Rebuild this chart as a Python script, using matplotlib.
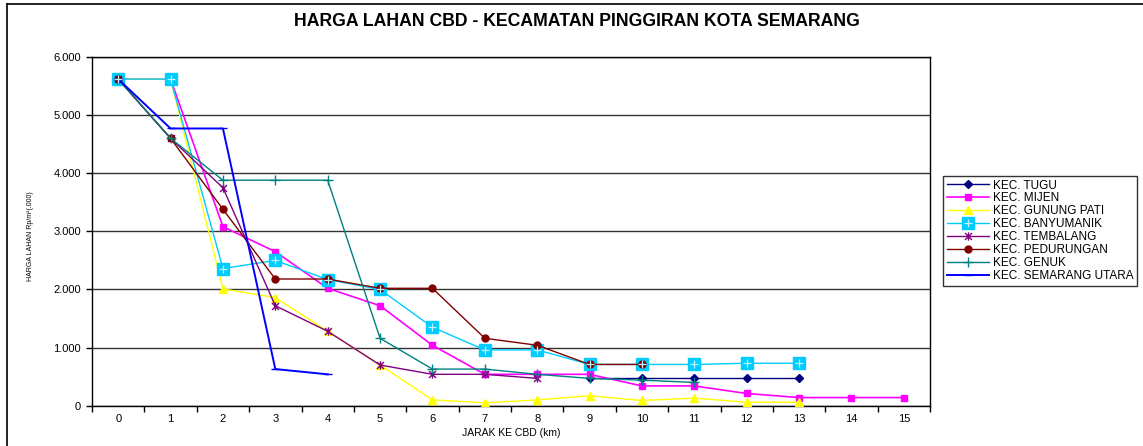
import numpy as np
import matplotlib
matplotlib.use('Agg')
import matplotlib.pyplot as plt
from matplotlib.ticker import FuncFormatter, FixedLocator
from matplotlib.lines import Line2D
from matplotlib.path import Path
from matplotlib.legend_handler import HandlerTuple

plt.rcParams['font.family'] = ['Liberation Sans', 'DejaVu Sans']

# Jarak ke CBD (km) dan harga lahan (Rp/m2, ribuan) per kecamatan
jarak = list(range(16))
nan = np.nan

tugu = [5620, nan, nan, nan, nan, nan, nan, nan, nan, 470, 470, 470, 470, 470, nan, nan]
mijen = [5620, 5620, 3080, 2650, 2020, 1720, 1040, 540, 540, 540, 340, 340, 210, 140, 140, 140]
gunung_pati = [5620, 5620, 2010, 1860, 1280, 700, 100, 50, 100, 170, 90, 130, 60, 60, nan, nan]
banyumanik = [5620, 5620, 2360, 2500, 2170, 2000, 1350, 960, 960, 710, 710, 710, 730, 730, nan, nan]
tembalang = [5620, 4600, 3750, 1720, 1280, 700, 540, 540, 470, nan, nan, nan, nan, nan, nan, nan]
pedurungan = [5620, 4600, 3380, 2180, 2180, 2020, 2020, 1160, 1040, 710, 710, nan, nan, nan, nan, nan]
genuk = [5620, 4600, 3880, 3880, 3880, 1160, 630, 630, 540, 470, 440, 400, nan, nan, nan, nan]
semarang_utara = [5620, 4770, 4770, 630, 540, nan, nan, nan, nan, nan, nan, nan, nan, nan, nan, nan]

# marker bintang: silang + garis tegak
bintang = Path([(-1, -1), (1, 1), (-1, 1), (1, -1), (0, -1.2), (0, 1.2)],
               [Path.MOVETO, Path.LINETO, Path.MOVETO, Path.LINETO, Path.MOVETO, Path.LINETO])

seri = [
    ('KEC. TUGU', tugu, '#000080', 'D', 4, 1.0),
    ('KEC. MIJEN', mijen, '#FF00FF', 's', 5, 1.2),
    ('KEC. GUNUNG PATI', gunung_pati, '#FFFF00', '^', 5.5, 1.0),
    ('KEC. BANYUMANIK', banyumanik, '#00CCFF', 's', 8, 1.0),
    ('KEC. TEMBALANG', tembalang, '#800080', bintang, 6, 1.0),
    ('KEC. PEDURUNGAN', pedurungan, '#800000', 'o', 5, 1.0),
    ('KEC. GENUK', genuk, '#008080', '+', 7, 1.0),
    ('KEC. SEMARANG UTARA', semarang_utara, '#0000FF', '_', 6, 1.4),
]

fig = plt.figure(figsize=(11.43, 4.46), dpi=100)
ax = fig.add_axes([92 / 1143, 1 - 405.7 / 446, (930 - 92) / 1143, (405.7 - 57) / 446])

handles = []
for nama, nilai, warna, mk, ms, lw in seri:
    y = np.array(nilai, dtype=float)
    x = np.array(jarak, dtype=float)
    ok = ~np.isnan(y)
    ax.plot(x, y, color=warna, lw=lw, marker=mk, ms=ms, mfc=warna, mec=warna, mew=1.0, zorder=3)
    h = [Line2D([], [], color=warna, lw=lw, marker=mk, ms=ms, mfc=warna, mec=warna)]
    if nama == 'KEC. BANYUMANIK':
        ax.plot(x[ok], y[ok], ls='none', marker='+', ms=6, mec='#BFF4FF', mew=0.9, zorder=4)
        h.append(Line2D([], [], ls='none', marker='+', ms=6, mec='#BFF4FF', mew=0.9))
    handles.append(tuple(h))

ax.set_xlim(-0.5, 15.5)
ax.set_ylim(0, 6000)
ax.set_xticks(jarak)
ax.set_xticklabels([str(j) for j in jarak], fontsize=8)
ax.xaxis.set_minor_locator(FixedLocator(np.arange(-0.5, 16, 1)))
ax.tick_params(axis='x', which='major', length=0, pad=6)
ax.tick_params(axis='x', which='minor', length=4, width=1, direction='out')
ax.set_yticks(np.arange(0, 6001, 1000))
ax.yaxis.set_major_formatter(FuncFormatter(lambda v, p: '0' if v == 0 else f'{int(v):,}'.replace(',', '.')))
ax.tick_params(axis='y', length=4, width=1, direction='out', labelsize=8, pad=4)
ax.grid(axis='y', color='#333333', lw=1.0, zorder=1)
for s in ax.spines.values():
    s.set_color('black')
    s.set_linewidth(1.0)

ax.set_xlabel('JARAK KE CBD (km)', fontsize=7.5, labelpad=3)
fig.text(30 / 1143, 1 - 236 / 446, 'HARGA LAHAN Rp/m²(.000)', rotation=90, fontsize=5,
         ha='center', va='center')

fig.text(577 / 1143, 1 - 21 / 446, 'HARGA LAHAN CBD - KECAMATAN PINGGIRAN KOTA SEMARANG',
         fontsize=12.7, fontweight='bold', ha='center', va='center')

leg = fig.legend(handles, [s[0] for s in seri], loc='upper left',
                 bbox_to_anchor=(943 / 1143, 1 - 176 / 446), fontsize=8.5,
                 frameon=True, fancybox=False, edgecolor='black', borderpad=0.3,
                 labelspacing=0.08, handlelength=3.6, handletextpad=0.3, borderaxespad=0,
                 handler_map={tuple: HandlerTuple(ndivide=1)})
leg.get_frame().set_linewidth(1.0)

# bingkai area grafik
fig.add_artist(Line2D([7 / 1143, 7 / 1143], [0, 1 - 4 / 446], color='black', lw=1.2,
                      transform=fig.transFigure))
fig.add_artist(Line2D([7 / 1143, 1], [1 - 4 / 446, 1 - 4 / 446], color='black', lw=1.2,
                      transform=fig.transFigure))

fig.savefig('out.png', dpi=100)
